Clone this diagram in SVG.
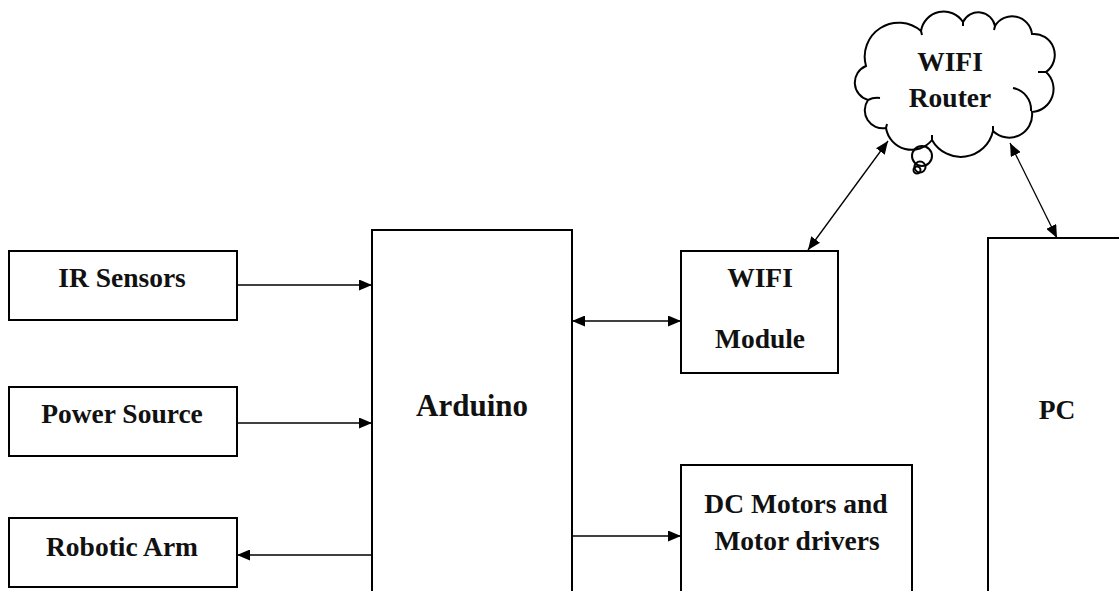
<svg xmlns="http://www.w3.org/2000/svg" width="1119" height="591" viewBox="0 0 1119 591">
<defs>
<style>
.box{fill:#fff;stroke:#000;stroke-width:2}
.lbl{font-family:"Liberation Serif","Times New Roman",serif;font-weight:bold;font-size:27.5px;fill:#111;text-anchor:middle}
.big{font-size:31px}
.con{stroke:#000;stroke-width:1.3;fill:none;marker-end:url(#ah)}
.bi{marker-start:url(#ah)}
.cl{fill:#fff;stroke:#000;stroke-width:2}
.cli{fill:none;stroke:#000;stroke-width:2}
</style>
<marker id="ah" viewBox="0 0 13 11" refX="13" refY="5.5" markerWidth="13" markerHeight="11" markerUnits="userSpaceOnUse" orient="auto-start-reverse">
<path d="M0,0 L13,5.5 L0,11 z" fill="#000"/>
</marker>
</defs>
<rect width="1119" height="591" fill="#fff"/>

<g id="ir-sensors">
<rect class="box" x="9" y="251" width="228" height="69"/>
<text class="lbl" x="122" y="287">IR Sensors</text>
</g>
<g id="power-source">
<rect class="box" x="9" y="387" width="228" height="69"/>
<text class="lbl" x="122" y="423">Power Source</text>
</g>
<g id="robotic-arm">
<rect class="box" x="9" y="518" width="228" height="69"/>
<text class="lbl" x="122" y="556">Robotic Arm</text>
</g>
<g id="arduino">
<rect class="box" x="372" y="230" width="200" height="380"/>
<text class="lbl big" x="472" y="416">Arduino</text>
</g>
<g id="wifi-module">
<rect class="box" x="681" y="251" width="157" height="122"/>
<text class="lbl" x="760" y="287">WIFI</text>
<text class="lbl" x="760" y="348">Module</text>
</g>
<g id="dc-motors">
<rect class="box" x="681" y="465" width="231" height="150"/>
<text class="lbl" x="796" y="513">DC Motors and</text>
<text class="lbl" x="797" y="550">Motor drivers</text>
</g>
<g id="pc">
<rect class="box" x="988" y="238" width="160" height="380"/>
<text class="lbl" x="1057" y="419">PC</text>
</g>
<g id="wifi-router">
<path class="cl" d="M866 66 A34 34 0 0 1 921 31 A23 23 0 0 1 963 22 A17 17 0 0 1 995 26 A20 20 0 0 1 1032 34 A21 21 0 0 1 1046 72 A23 23 0 0 1 1032 112 A23 23 0 0 1 993 131 A33 33 0 0 1 932 140 A26 26 0 0 1 886 128 A18 18 0 0 1 868 100 A18 18 0 0 1 866 66 Z"/>
<path class="cli" d="M1013 88 A22 22 0 0 1 1031 111"/>
<path class="cli" d="M868 100 A20 20 0 0 1 880 98"/>
<path class="cli" d="M921 31 l1 4 M963 22 l0 4 M995 26 l-1 4 M1046 72 l-8 0 M993 131 l0 -5 M932 140 l0 -5 M886 128 l1 -4"/>
<circle class="cli" cx="922" cy="156" r="10"/>
<circle class="cli" cx="920" cy="167" r="5.5"/>
<circle class="cli" cx="917" cy="170" r="3.5"/>
<text class="lbl" x="950" y="71">WIFI</text>
<text class="lbl" x="950" y="107">Router</text>
</g>

<g id="connectors">
<line class="con" x1="237" y1="285" x2="372" y2="285"/>
<line class="con" x1="237" y1="423" x2="372" y2="423"/>
<line class="con" x1="372" y1="555" x2="237" y2="555"/>
<line class="con bi" x1="572" y1="321" x2="681" y2="321"/>
<line class="con" x1="572" y1="536" x2="681" y2="536"/>
<line class="con bi" x1="808" y1="250" x2="888" y2="141"/>
<line class="con bi" x1="1010" y1="143" x2="1057" y2="238"/>
</g>
</svg>
